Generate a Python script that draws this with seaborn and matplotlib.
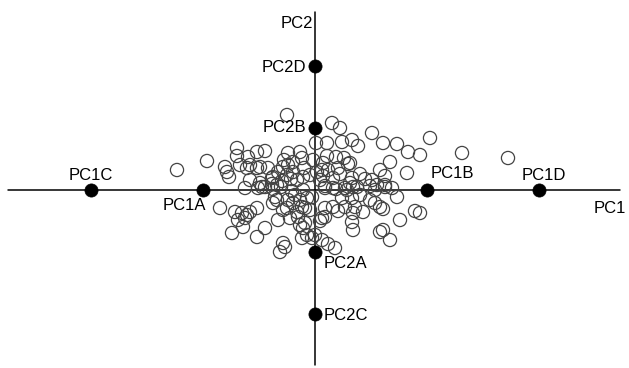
import numpy as np
import pandas as pd
import seaborn as sns
import matplotlib
matplotlib.use("Agg")
import matplotlib.pyplot as plt

# === Data: PC scores (arbitrary units) ===
pc1 = [
    -28, -78, -78, -67, -58, -50, -15, -13, -27, -108, -138, -90, -88, -86,
    -75, -65, -55, -47, -31, -27, -11, -37, -43, -28, -18, -65, -55, -38,
    -68, -58, -32, -22, -22, -42, -33, -24, -12, -5, -43, -53, -70, 1, -2, 2,
    17, 25, 57, 115, 68, 82, 93, 105, 147, 193, 12, 27, 37, 43, 12, 21, 29,
    33, 35, 8, 13, 23, 25, 75, 65, 92, 70, 45, 50, 57, 37, 35, 70, 77, 5, 10,
    18, 7, 8, 18, 55, 62, 30, 38,
    -95, -80, -73, -68, -65, -58, -77, -72, -83, -50, -58, -32, -30, -35,
    -57, -42, -34, -23, -12, -50, -40, -20, -8, -3, -70, -42, -38, -32, -28,
    -18, -13, -10, -5, -37, -25, -17, -15, -10, -12, -13, -8, -27, -22, -15,
    10, 21, 32, 42, 60, 70, 45, 27, 37, 55, 60, 65, 68, 82, 10, 18, 23, 30,
    38, 40, 48, 7, 10, 5, 37, 38, 65, 68, 75, 85, 105, 100, -3, 0, 7, 13,
    20, 24,
]
pc2 = [
    75, 42, 34, 33, 38, 39, 38, 32, 37, 29, 20, 23, 18, 13, 25, 25, 23, 22,
    30, 25, 22, 18, 12, 15, 10, 10, 7, 5, 22, 22, 23, 28, 18, 13, 9, 11, 13,
    15, 6, 3, 2, 47, 30, 18, 67, 62, 57, 52, 47, 46, 38, 35, 37, 32, 47, 48,
    50, 44, 34, 33, 32, 26, 27, 27, 20, 22, 16, 28, 20, 17, 14, 16, 11, 10,
    12, 7, 5, 2, 10, 4, 2, 20, 14, 12, 4, 5, 2, 3,
    -18, -22, -23, -25, -22, -18, -30, -37, -43, -38, -47, -53, -57, -62,
    2, 1, 3, -1, 0, 3, -7, -5, -8, -7, -28, -13, -10, -20, -18, -22, -17,
    -18, -20, -30, -28, -27, -35, -33, -38, -48, -45, -10, -13, -10, 2, 1,
    0, 3, 0, 3, -5, -8, -8, -10, -13, -17, -19, -7, -18, -17, -21, -17, -23,
    -17, -22, -28, -27, -31, -32, -40, -42, -40, -50, -30, -23, -21, -48,
    -45, -50, -54, -58,
]

# reference points at +/-1 and +/-2 "units" along each component
pc1_unit = 112
pc2_unit = 62
ref_labels = ["PC1C", "PC1A", "PC1B", "PC1D", "PC2D", "PC2B", "PC2A", "PC2C"]
ref_pc1 = [-2, -1, 1, 2, 0, 0, 0, 0]
ref_pc2 = [0, 0, 0, 0, 2, 1, -1, -2]

n = min(len(pc1), len(pc2))
scores = pd.DataFrame({"PC1": pc1[:n], "PC2": pc2[:n]})
refs = pd.DataFrame({
    "label": ref_labels,
    "PC1": np.array(ref_pc1) * pc1_unit,
    "PC2": np.array(ref_pc2) * pc2_unit,
})

# label offsets in pixels (dx, dy, ha)
offsets = {
    "PC1C": (0, 15, "center"),
    "PC1A": (-19, -15, "center"),
    "PC1B": (25, 16, "center"),
    "PC1D": (5, 15, "center"),
    "PC2D": (-9, -1, "right"),
    "PC2B": (-9, 0, "right"),
    "PC2A": (9, -12, "left"),
    "PC2C": (9, -1, "left"),
}

# === Plot ===
sns.set_theme(style="white")
plt.rcParams["font.family"] = ["Liberation Sans", "DejaVu Sans"]
plt.rcParams["text.color"] = "black"
DPI = 100
fig = plt.figure(figsize=(6.29, 3.68), dpi=DPI)
ax = fig.add_axes([0, 0, 1, 1])
ax.set_xlim(-315, 314)
ax.set_ylim(-178, 190)
ax.axis("off")

# axis cross
ax.plot([-307, 305], [0, 0], color="black", lw=1.1, zorder=1)
ax.plot([0, 0], [-175, 178], color="black", lw=1.1, zorder=1)

sns.scatterplot(
    data=scores, x="PC1", y="PC2", ax=ax,
    s=90, facecolor="none", edgecolor="#444444", linewidth=0.9,
    zorder=2, legend=False,
)
sns.scatterplot(
    data=refs, x="PC1", y="PC2", ax=ax,
    s=90, color="black", edgecolor="black", linewidth=0.5,
    zorder=3, legend=False,
)

px = 72 / DPI
for _, r in refs.iterrows():
    dx, dy, ha = offsets[r["label"]]
    ax.annotate(r["label"], (r["PC1"], r["PC2"]),
                xytext=(dx * px, dy * px), textcoords="offset points",
                ha=ha, va="center", fontsize=12, color="black")

ax.text(0.970, 0.434, "PC1", transform=ax.transAxes,
        ha="center", va="center", fontsize=12, color="black")
ax.text(0.472, 0.937, "PC2", transform=ax.transAxes,
        ha="center", va="center", fontsize=12, color="black")

fig.savefig("out.png", dpi=DPI)
